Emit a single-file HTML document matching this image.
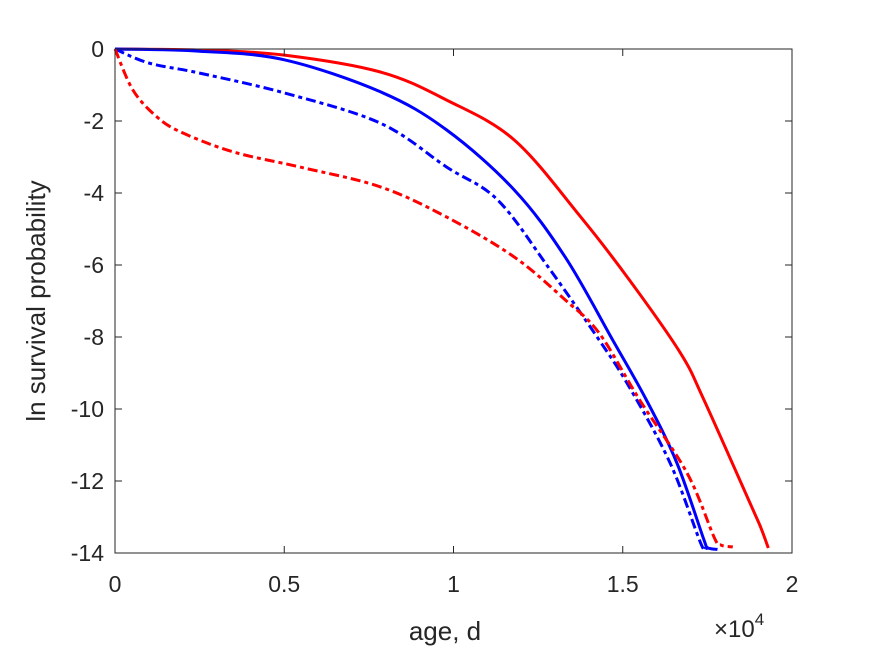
<!DOCTYPE html>
<html><head><meta charset="utf-8"><style>
body{margin:0;background:#fff;}
svg{display:block;font-family:"Liberation Sans",Arial,sans-serif;}
</style></head><body>
<svg id="chart" width="875" height="656" viewBox="0 0 875 656">
<rect x="0" y="0" width="875" height="656" fill="#fff"/>
<g id="plot"></g>
<g id="axes"></g>
</svg>
<script>
const xTicks=[0,0.5,1,1.5,2];
const xTickLabels=["0","0.5","1","1.5","2"];
const yTicks=[0,-2,-4,-6,-8,-10,-12,-14];
const yTickLabels=["0","-2","-4","-6","-8","-10","-12","-14"];
const redSolidX=[0,0.25,0.5,0.784,0.98,1.18,1.376,1.52,1.67,1.74,1.88,1.908,1.93];
const redSolidY=[0,-0.03,-0.17,-0.64,-1.42,-2.53,-4.67,-6.42,-8.44,-9.75,-12.7,-13.3,-13.86];
const blueSolidX=[0,0.25,0.5,0.784,0.98,1.18,1.33,1.47,1.57,1.66,1.74,1.75,1.78];
const blueSolidY=[0,-0.06,-0.3,-1.19,-2.25,-3.92,-5.78,-8.08,-9.75,-11.5,-13.64,-13.85,-13.9];
const blueDashX=[0,0.1,0.25,0.5,0.784,0.98,1.13,1.28,1.43,1.52,1.64,1.73,1.745];
const blueDashY=[0,-0.39,-0.67,-1.22,-2.06,-3.28,-4.19,-6.06,-8.08,-9.4,-11.5,-13.72,-13.86];
const redDashX=[0,0.053,0.124,0.2,0.35,0.547,0.784,0.98,1.18,1.33,1.43,1.55,1.69,1.77,1.79,1.825];
const redDashY=[0,-1.14,-1.89,-2.33,-2.86,-3.28,-3.83,-4.67,-5.78,-6.97,-7.89,-9.75,-11.78,-13.56,-13.78,-13.83];

const L=115,R=792,T=49,B=553,xMin=0,xMax=2,yMin=-14,yMax=0;
const sx=v=>L+(v-xMin)/(xMax-xMin)*(R-L);
const sy=v=>T+(yMax-v)/(yMax-yMin)*(B-T);
const NS="http://www.w3.org/2000/svg";
const plot=document.getElementById('plot'),axes=document.getElementById('axes');
function mk(tag,attrs,parent){const e=document.createElementNS(NS,tag);for(const k in attrs)e.setAttribute(k,attrs[k]);parent.appendChild(e);return e;}

function smoothPath(pts){
  let d='M'+pts[0][0].toFixed(1)+','+pts[0][1].toFixed(1);
  for(let i=0;i<pts.length-1;i++){
    const p0=pts[Math.max(0,i-1)],p1=pts[i],p2=pts[i+1],p3=pts[Math.min(pts.length-1,i+2)];
    const c1=[p1[0]+(p2[0]-p0[0])/6,p1[1]+(p2[1]-p0[1])/6];
    const c2=[p2[0]-(p3[0]-p1[0])/6,p2[1]-(p3[1]-p1[1])/6];
    d+=' C'+c1.map(v=>v.toFixed(1)).join(',')+' '+c2.map(v=>v.toFixed(1)).join(',')+' '+p2[0].toFixed(1)+','+p2[1].toFixed(1);
  }
  return d;
}
function line(xs,ys,color,dash,name){
  const pts=xs.map((x,i)=>[sx(x),sy(ys[i])]);
  const p=mk('path',{d:smoothPath(pts),fill:'none',stroke:color,'stroke-width':3,'stroke-linejoin':'round'},plot);
  if(dash)p.setAttribute('stroke-dasharray',dash);
  
  
}
line(redSolidX,redSolidY,'#ff0000',null,'series-red-solid');
line(blueSolidX,blueSolidY,'#0000ff',null,'series-blue-solid');
line(blueDashX,blueDashY,'#0000ff','10,4,4,4','series-blue-dashdot');
line(redDashX,redDashY,'#ff0000','10,4,4,4','series-red-dashdot');

const box=mk('rect',{x:L,y:T,width:R-L,height:B-T,fill:'none',stroke:'#262626','stroke-width':1},axes);


xTicks.forEach((v,i)=>{
  const x=sx(v);
  mk('line',{x1:x,y1:B,x2:x,y2:B-7,stroke:'#262626'},axes);
  mk('line',{x1:x,y1:T,x2:x,y2:T+7,stroke:'#262626'},axes);
  const t=mk('text',{x:x,y:B+39,'text-anchor':'middle','font-size':23,fill:'#262626'},axes);
  t.textContent=xTickLabels[i];
  
  
});
yTicks.forEach((v,i)=>{
  const y=sy(v);
  mk('line',{x1:L,y1:y,x2:L+7,y2:y,stroke:'#262626'},axes);
  mk('line',{x1:R,y1:y,x2:R-7,y2:y,stroke:'#262626'},axes);
  const t=mk('text',{x:L-11,y:y+8,'text-anchor':'end','font-size':23,fill:'#262626'},axes);
  t.textContent=yTickLabels[i];
  
  
});
</script>
<svg style="position:absolute;left:0;top:0" width="875" height="656">
<text x="445" y="640" text-anchor="middle" font-size="26" fill="#262626" font-family="Liberation Sans, sans-serif">age, d</text>
<text x="714" y="637" font-size="24" fill="#262626" font-family="Liberation Sans, sans-serif">×10<tspan font-size="17" dy="-12">4</tspan></text>
<text transform="translate(45,301) rotate(-90)" text-anchor="middle" font-size="26" fill="#262626" font-family="Liberation Sans, sans-serif">ln survival probability</text>
</svg>
</body></html>
